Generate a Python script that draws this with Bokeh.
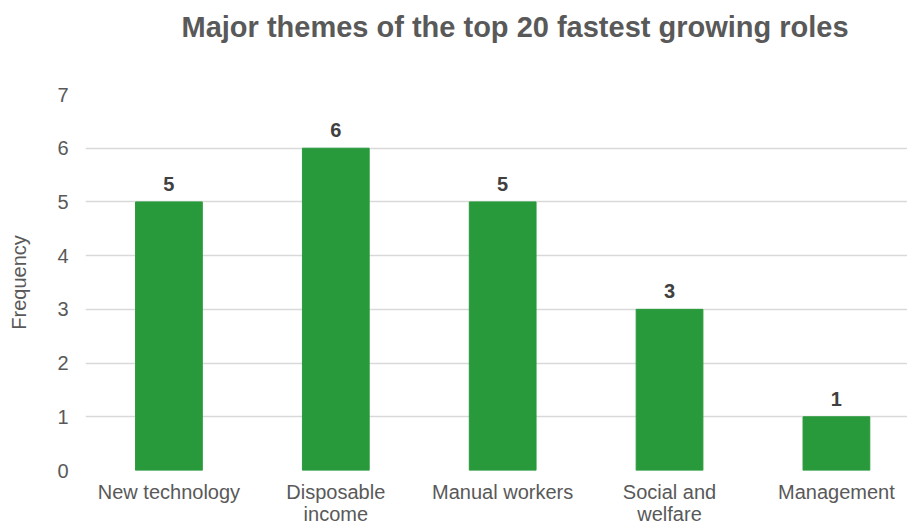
from bokeh.plotting import figure
from bokeh.models import ColumnDataSource, Range1d, FixedTicker, Title
from bokeh.core.properties import value
from bokeh.embed import file_html
from bokeh.resources import INLINE

categories = ["New technology", "Disposable\nincome", "Manual workers", "Social and\nwelfare", "Management"]
frequency = [5, 6, 5, 3, 1]
y_ticks = [0, 1, 2, 3, 4, 5, 6, 7]
title_text = "Major themes of the top 20 fastest growing roles"

FONT = "Liberation Sans"
TXT = "#595959"

xs = list(range(len(categories)))
src = ColumnDataSource(dict(x=xs, top=frequency, lbl=[str(v) for v in frequency]))

p = figure(width=907, height=527, output_backend="svg", toolbar_location=None, title=None,
           x_range=Range1d(-0.5, 4.426), y_range=Range1d(0, 7),
           min_border_left=85, min_border_right=0, min_border_top=94, min_border_bottom=56)
p.outline_line_color = None
p.background_fill_color = "white"
p.border_fill_color = "white"

# spacer panel between frame and title
p.add_layout(Title(text=" ", text_font_size="2px", standoff=36), "above")
p.add_layout(Title(text=title_text, align="left", vertical_align="top", offset=96, standoff=20,
                   text_font=FONT, text_font_style="bold", text_font_size="29px",
                   text_color=TXT), "above")

p.vbar(x="x", top="top", width=0.4, source=src, fill_color="#299A3B", line_color="#299A3B")
p.text(x="x", y="top", text="lbl", source=src, text_align="center", text_baseline="bottom",
       y_offset=-11, text_font=value(FONT), text_font_style="bold", text_font_size="20px",
       text_color="#404040")

p.xgrid.visible = False
p.ygrid.grid_line_color = "#D9D9D9"
p.ygrid.grid_line_width = 1.5
p.ygrid.ticker = FixedTicker(ticks=y_ticks)

ya = p.yaxis[0]
ya.ticker = FixedTicker(ticks=y_ticks)
ya.axis_line_color = None
ya.major_tick_line_color = None
ya.minor_tick_line_color = None
ya.major_tick_out = 0
ya.major_tick_in = 0
ya.major_label_standoff = 17
ya.major_label_text_font = FONT
ya.major_label_text_font_size = "20px"
ya.major_label_text_color = TXT
ya.axis_label = "Frequency"
ya.axis_label_text_font = FONT
ya.axis_label_text_font_size = "20px"
ya.axis_label_text_font_style = "normal"
ya.axis_label_text_color = TXT
ya.axis_label_standoff = 24

xa = p.xaxis[0]
xa.ticker = FixedTicker(ticks=xs)
xa.major_label_overrides = {i: c for i, c in zip(xs, categories)}
xa.axis_line_color = None
xa.major_tick_line_color = None
xa.minor_tick_line_color = None
xa.major_tick_out = 0
xa.major_tick_in = 0
xa.major_label_standoff = 10
xa.major_label_text_font = FONT
xa.major_label_text_font_size = "20px"
xa.major_label_text_line_height = 1.0
xa.major_label_text_color = TXT

open("out.html", "w").write(file_html(p, INLINE))
